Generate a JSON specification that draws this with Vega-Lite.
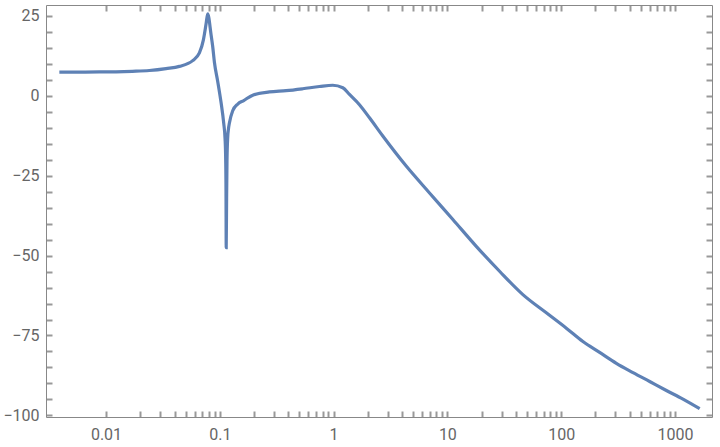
{
  "$schema": "https://vega.github.io/schema/vega-lite/v6.json",
  "width": 666,
  "height": 412,
  "autosize": {"type": "none"},
  "padding": {"left": 46, "top": 5, "right": 8, "bottom": 30},
  "background": "white",
  "config": {
    "view": {"stroke": null},
    "axis": {
      "grid": false,
      "title": null,
      "domainColor": "#888888",
      "labelColor": "#666666",
      "labelFont": "Roboto",
      "labelFontSize": 16,
      "labelFlush": false,
      "labelOverlap": false
    }
  },
  "data": {
    "values": [
      {"f": 0.00389, "db": 7.4},
      {"f": 0.00583, "db": 7.4},
      {"f": 0.00874, "db": 7.45},
      {"f": 0.01225, "db": 7.5},
      {"f": 0.01705, "db": 7.65},
      {"f": 0.02405, "db": 7.9},
      {"f": 0.03373, "db": 8.5},
      {"f": 0.04415, "db": 9.2},
      {"f": 0.05779, "db": 11.0},
      {"f": 0.0662, "db": 13.4},
      {"f": 0.07178, "db": 17.5},
      {"f": 0.0758, "db": 22.5},
      {"f": 0.07828, "db": 25.6},
      {"f": 0.0839, "db": 19.0},
      {"f": 0.0866, "db": 15.5},
      {"f": 0.0897, "db": 10.5},
      {"f": 0.0959, "db": 4.5},
      {"f": 0.1027, "db": -2.2},
      {"f": 0.1082, "db": -8.5},
      {"f": 0.1113, "db": -13.5},
      {"f": 0.1127, "db": -20},
      {"f": 0.11342, "db": -30},
      {"f": 0.11388, "db": -47.5},
      {"f": 0.11481, "db": -32},
      {"f": 0.11574, "db": -20},
      {"f": 0.1174, "db": -13},
      {"f": 0.11907, "db": -10.5},
      {"f": 0.1215, "db": -8.5},
      {"f": 0.1299, "db": -4.7},
      {"f": 0.1438, "db": -2.6},
      {"f": 0.1623, "db": -1.5},
      {"f": 0.1948, "db": 0.2},
      {"f": 0.2731, "db": 1.2},
      {"f": 0.383, "db": 1.6},
      {"f": 0.5361, "db": 2.2},
      {"f": 0.7516, "db": 2.9},
      {"f": 0.984, "db": 3.3},
      {"f": 1.205, "db": 2.5},
      {"f": 1.38, "db": 0.4},
      {"f": 1.689, "db": -2.8},
      {"f": 2.069, "db": -6.9},
      {"f": 2.708, "db": -12.6},
      {"f": 4.348, "db": -22.0},
      {"f": 6.97, "db": -30.4},
      {"f": 11.18, "db": -38.7},
      {"f": 17.95, "db": -47.1},
      {"f": 28.77, "db": -54.9},
      {"f": 46.1, "db": -62.2},
      {"f": 74.06, "db": -67.9},
      {"f": 111.0, "db": -72.7},
      {"f": 155.4, "db": -76.9},
      {"f": 217.9, "db": -80.3},
      {"f": 305.5, "db": -83.7},
      {"f": 427.6, "db": -86.6},
      {"f": 599.8, "db": -89.4},
      {"f": 840.9, "db": -92.2},
      {"f": 1177, "db": -94.9},
      {"f": 1650, "db": -97.9}
    ]
  },
  "layer": [
    {
      "mark": {"type": "line", "color": "#5E81B5", "strokeWidth": 3.2, "interpolate": "monotone"},
      "encoding": {
        "x": {"field": "f", "type": "quantitative",
              "scale": {"type": "log", "domain": [0.00297, 2117], "nice": false},
              "axis": {"orient": "bottom",
                       "values": [0.01, 0.02, 0.03, 0.04, 0.05, 0.06, 0.07, 0.08, 0.09, 0.1, 0.2, 0.3, 0.4, 0.5, 0.6, 0.7, 0.8, 0.9, 1, 2, 3, 4, 5, 6, 7, 8, 9, 10, 20, 30, 40, 50, 60, 70, 80, 90, 100, 200, 300, 400, 500, 600, 700, 800, 900, 1000],
                       "format": "~g",
                       "labelExpr": "indexof([0.01, 0.1, 1, 10, 100, 1000], datum.value) >= 0 ? datum.label : ''",
                       "ticks": true, "domain": true, "labelPadding": 15,
                       "tickColor": "#999999", "tickWidth": 2, "tickSize": -6}},
        "y": {"field": "db", "type": "quantitative",
              "scale": {"domain": [-100.5, 28.4], "nice": false, "zero": false},
              "axis": {"orient": "left",
                       "values": [-100, -95, -90, -85, -80, -75, -70, -65, -60, -55, -50, -45, -40, -35, -30, -25, -20, -15, -10, -5, 0, 5, 10, 15, 20, 25],
                       "format": "d",
                       "labelExpr": "datum.value % 25 == 0 ? datum.label : ''",
                       "ticks": true, "domain": true, "labelPadding": 13,
                       "tickColor": "#999999", "tickWidth": 2, "tickSize": -6}}
      }
    },
    {
      "mark": {"type": "line", "opacity": 0},
      "encoding": {
        "x": {"field": "f", "type": "quantitative",
              "scale": {"type": "log", "domain": [0.00297, 2117], "nice": false},
              "axis": {"orient": "top",
                       "values": [0.01, 0.02, 0.03, 0.04, 0.05, 0.06, 0.07, 0.08, 0.09, 0.1, 0.2, 0.3, 0.4, 0.5, 0.6, 0.7, 0.8, 0.9, 1, 2, 3, 4, 5, 6, 7, 8, 9, 10, 20, 30, 40, 50, 60, 70, 80, 90, 100, 200, 300, 400, 500, 600, 700, 800, 900, 1000],
                       "labels": false, "ticks": true, "domain": true,
                       "tickColor": "#999999", "tickWidth": 2, "tickSize": -6}},
        "y": {"field": "db", "type": "quantitative",
              "scale": {"domain": [-100.5, 28.4], "nice": false, "zero": false},
              "axis": {"orient": "right",
                       "values": [-100, -95, -90, -85, -80, -75, -70, -65, -60, -55, -50, -45, -40, -35, -30, -25, -20, -15, -10, -5, 0, 5, 10, 15, 20, 25],
                       "labels": false, "ticks": true, "domain": true,
                       "tickColor": "#999999", "tickWidth": 2, "tickSize": -6}}
      }
    }
  ],
  "resolve": {"axis": {"x": "independent", "y": "independent"}}
}
